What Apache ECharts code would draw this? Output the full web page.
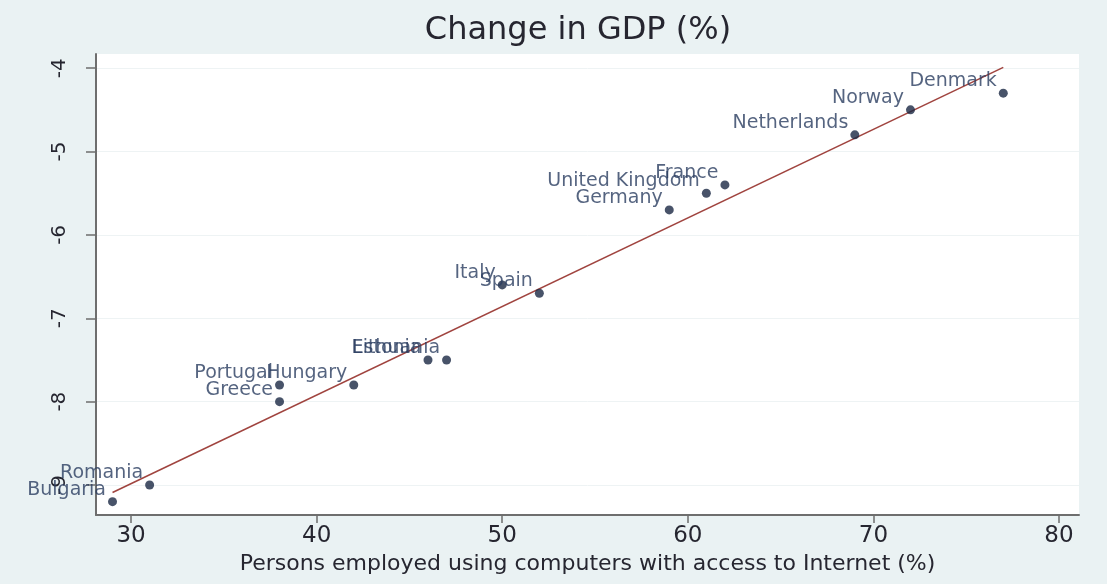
<!DOCTYPE html>
<html>
<head>
<meta charset="utf-8">
<script src="https://cdn.jsdelivr.net/npm/echarts@6/dist/echarts.min.js"></script>
<style>
  html, body { margin: 0; padding: 0; background: #eaf2f3; }
  #main { width: 1107px; height: 584px; }
</style>
</head>
<body>
<div id="main"></div>
<script>
// countries, x = persons using computers with internet (%), y = change in GDP (%)
var countries = ['Denmark', 'Norway', 'Netherlands', 'France', 'United Kingdom', 'Germany',
    'Spain', 'Italy', 'Estonia', 'Lithuania', 'Hungary', 'Portugal', 'Greece', 'Romania', 'Bulgaria'];
var internetPct = [77, 72, 69, 62, 61, 59, 52, 50, 46, 47, 42, 38, 38, 31, 29];
var gdpChange = [-4.3, -4.5, -4.8, -5.4, -5.5, -5.7, -6.7, -6.6, -7.5, -7.5, -7.8, -7.8, -8.0, -9.0, -9.2];

// fitted line
var fitX = [29, 77];
var fitY = [-9.09, -3.99];

var xTicks = [30, 40, 50, 60, 70, 80];
var yTicks = [-4, -5, -6, -7, -8, -9];

var myChart = echarts.init(document.getElementById('main'));

var points = [];
for (var i = 0; i < countries.length; i++) {
    points.push({name: countries[i], value: [internetPct[i], gdpChange[i]]});
}
var fitLine = [];
for (var j = 0; j < fitX.length; j++) {
    fitLine.push([fitX[j], fitY[j]]);
}

var font = 'DejaVu Sans';

var option = {
    backgroundColor: '#eaf2f3',
    animation: false,
    graphic: [{
        type: 'text',
        x: 578,
        y: 31,
        style: {
            text: 'Change in GDP (%)',
            font: '32px "DejaVu Sans"',
            fill: '#262630',
            textAlign: 'center',
            textVerticalAlign: 'middle'
        }
    }],
    grid: {
        left: 96,
        right: 28,
        top: 54,
        bottom: 69,
        show: true,
        backgroundColor: '#ffffff',
        borderWidth: 0
    },
    xAxis: {
        type: 'value',
        min: 28.11,
        max: 81.08,
        name: 'Persons employed using computers with access to Internet (%)',
        nameLocation: 'middle',
        nameGap: 31,
        nameTextStyle: {fontFamily: font, fontSize: 22, color: '#262630'},
        axisLine: {show: true, lineStyle: {color: '#6e6e6e', width: 2}},
        axisTick: {show: true, length: 8, customValues: xTicks, lineStyle: {color: '#6e6e6e', width: 1.5}},
        axisLabel: {customValues: xTicks, margin: 10, fontFamily: font, fontSize: 23, color: '#262630'},
        splitLine: {show: false}
    },
    yAxis: {
        type: 'value',
        min: -9.36,
        max: -3.83,
        axisLine: {show: true, lineStyle: {color: '#6e6e6e', width: 2}},
        axisTick: {show: true, length: 10, customValues: yTicks, lineStyle: {color: '#6e6e6e', width: 1.5}},
        axisLabel: {customValues: yTicks, rotate: 90, margin: 26, fontFamily: font, fontSize: 20, color: '#262630'},
        splitLine: {show: true, lineStyle: {color: '#eef3f4', width: 1}}
    },
    series: [{
        name: 'fit',
        type: 'line',
        data: fitLine,
        symbol: 'none',
        lineStyle: {color: '#a0443f', width: 1.5},
        z: 1
    }, {
        name: 'countries',
        type: 'scatter',
        data: points,
        symbolSize: 9,
        itemStyle: {color: '#1a2844'},
        label: {
            show: true,
            position: 'left',
            distance: 2,
            offset: [0, -12],
            formatter: '{b}',
            fontFamily: font,
            fontSize: 19,
            color: '#2a3d60'
        },
        z: 2
    }]
};

myChart.setOption(option);
window.addEventListener('resize', function () {
    myChart.resize();
});
</script>
</body>
</html>
